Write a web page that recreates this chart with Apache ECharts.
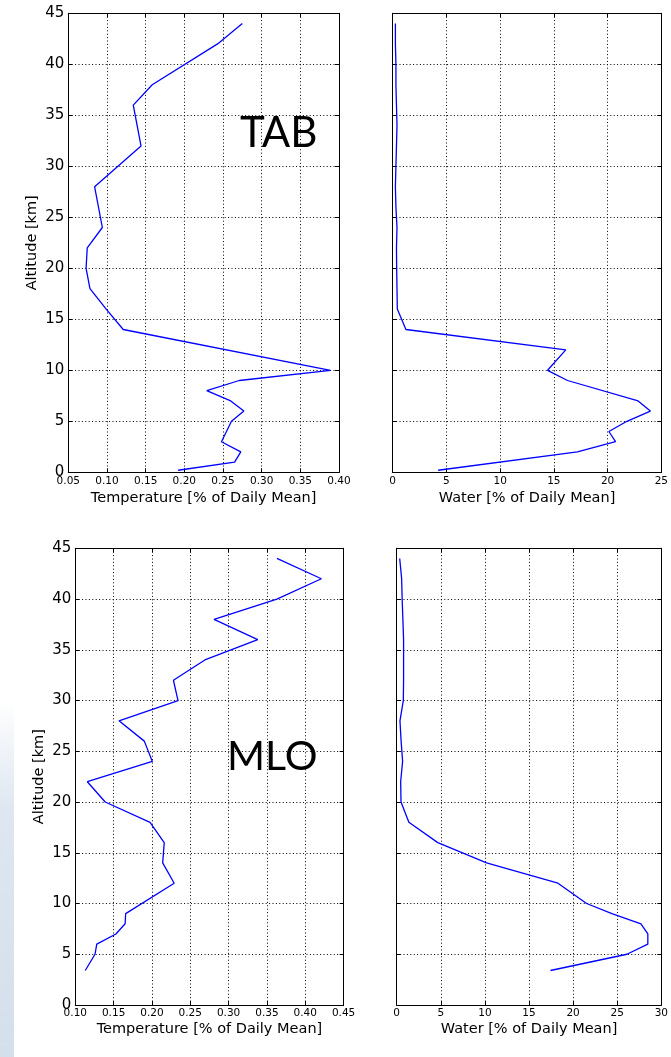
<!DOCTYPE html>
<html>
<head>
<meta charset="utf-8">
<script src="https://cdn.jsdelivr.net/npm/echarts@6/dist/echarts.min.js"></script>
<style>
html,body{margin:0;padding:0;background:#fff;}
#chart{width:671px;height:1057px;}
</style>
</head>
<body>
<div id="chart"></div>
<script>
// ---- data ----
const tabTempAlt = [0.2,1,2,3,5,6,7,8,9,10,14,16,18,20,22,24,28,32,36,38,42,44];
const tabTemp    = [0.192,0.265,0.273,0.248,0.261,0.277,0.260,0.229,0.271,0.389,0.121,0.099,0.078,0.073,0.0745,0.094,0.084,0.144,0.134,0.1585,0.243,0.275];

const tabWaterAlt = [0.2,2,3,4,5,6,7,9,10,12,14,16,18,20,22,24,26,28,30,32,34,36,38,40,42,44];
const tabWater    = [4.23,17.19,20.74,20.12,21.8,23.98,22.84,16.27,14.41,16.11,1.23,0.43,0.4,0.37,0.35,0.4,0.3,0.25,0.3,0.35,0.4,0.35,0.3,0.3,0.25,0.25];

const mloTempAlt = [3.4,5,6,7,8,9,12,14,16,18,20,22,24,26,28,30,32,34,36,38,40,42,44];
const mloTemp    = [0.113,0.1257,0.128,0.153,0.165,0.1657,0.229,0.214,0.216,0.1975,0.139,0.1157,0.2005,0.190,0.157,0.234,0.228,0.269,0.338,0.281,0.363,0.421,0.363];

const mloWaterAlt = [3.4,5,6,7,8,9,10,12,14,16,18,20,22,24,26,28,30,32,34,36,38,40,42,44];
const mloWater    = [17.43,26.1,28.47,28.47,27.69,24.4,21.53,18.28,10.19,4.66,1.38,0.49,0.45,0.67,0.5,0.37,0.75,0.78,0.78,0.78,0.7,0.62,0.56,0.34];

const altTicks = [0,5,10,15,20,25,30,35,40,45];
const tempTitle = 'Temperature [% of Daily Mean]';
const waterTitle = 'Water [% of Daily Mean]';
const altTitle = 'Altitude [km]';
const stationLabels = ['TAB','MLO'];

// ---- layout ----
const grids = [
  {left:68.3, top:13.3, width:270.7, height:459},
  {left:392.7, top:13.3, width:270, height:459},
  {left:75.3, top:548.3, width:268.3, height:456.7},
  {left:396.7, top:548.3, width:268, height:456.7}
];
const xCfg = [
  {min:0.05, max:0.40, interval:0.05, fmt:v=>v.toFixed(2), name:tempTitle, labelMargin:3, nameGap:18},
  {min:0, max:25, interval:5, fmt:v=>String(Math.round(v)), name:waterTitle, labelMargin:3, nameGap:18},
  {min:0.10, max:0.45, interval:0.05, fmt:v=>v.toFixed(2), name:tempTitle, labelMargin:3, nameGap:17},
  {min:0, max:30, interval:5, fmt:v=>String(Math.round(v)), name:waterTitle, labelMargin:3, nameGap:17}
];
const yLabelsShown = [true,false,true,false];
const seriesData = [
  tabTemp.map((v,i)=>[v,tabTempAlt[i]]),
  tabWater.map((v,i)=>[v,tabWaterAlt[i]]),
  mloTemp.map((v,i)=>[v,mloTempAlt[i]]),
  mloWater.map((v,i)=>[v,mloWaterAlt[i]])
];

const dotted = {color:'#000', width:1, type:[1,2.4]};
const xAxes = [], yAxes = [], series = [];
grids.forEach((g,i)=>{
  const c = xCfg[i];
  xAxes.push({
    type:'value', gridIndex:i, min:c.min, max:c.max, interval:c.interval, position:'bottom',
    axisLine:{show:true, onZero:false, lineStyle:{color:'#000', width:1}},
    axisTick:{show:true, inside:true, length:4, lineStyle:{color:'#000'}},
    axisLabel:{show:true, formatter:c.fmt, color:'#000', fontFamily:'DejaVu Sans', fontSize:10.5, margin:c.labelMargin, showMinLabel:true, showMaxLabel:true},
    splitLine:{show:true, lineStyle:dotted},
    name:c.name, nameLocation:'middle', nameGap:c.nameGap,
    nameTextStyle:{color:'#000', fontFamily:'DejaVu Sans', fontSize:14.5, verticalAlign:'top'}
  });
  xAxes.push({
    type:'value', gridIndex:i, min:c.min, max:c.max, interval:c.interval, position:'top',
    axisLine:{show:true, onZero:false, lineStyle:{color:'#000', width:1}},
    axisTick:{show:true, inside:true, length:4, lineStyle:{color:'#000'}},
    axisLabel:{show:false}, splitLine:{show:false}
  });
  yAxes.push({
    type:'value', gridIndex:i, min:0, max:45, interval:5, position:'left',
    axisLine:{show:true, onZero:false, lineStyle:{color:'#000', width:1}},
    axisTick:{show:true, inside:true, length:4, lineStyle:{color:'#000'}},
    axisLabel:{show:yLabelsShown[i], color:'#000', fontFamily:'DejaVu Sans', fontSize:15, margin:4,
      formatter:v=>altTicks.includes(v)?String(v):''},
    splitLine:{show:true, lineStyle:dotted},
    name:yLabelsShown[i]?altTitle:'', nameLocation:'middle', nameGap:29,
    nameTextStyle:{color:'#000', fontFamily:'DejaVu Sans', fontSize:14.5}
  });
  yAxes.push({
    type:'value', gridIndex:i, min:0, max:45, interval:5, position:'right',
    axisLine:{show:true, onZero:false, lineStyle:{color:'#000', width:1}},
    axisTick:{show:true, inside:true, length:4, lineStyle:{color:'#000'}},
    axisLabel:{show:false}, splitLine:{show:false}
  });
  series.push({
    type:'line', xAxisIndex:2*i, yAxisIndex:2*i, data:seriesData[i],
    showSymbol:false, symbol:'none', animation:false,
    lineStyle:{color:'#0000ff', width:1.3}
  });
});

const chart = echarts.init(document.getElementById('chart'), null, {renderer:'canvas'});
chart.setOption({
  animation:false,
  backgroundColor:'#fff',
  grid: grids.map(g=>Object.assign({containLabel:false}, g)),
  xAxis:xAxes, yAxis:yAxes, series:series,
  graphic:[
    {type:'rect', left:0, top:700, z:-10, shape:{width:14, height:357},
      style:{fill:new echarts.graphic.LinearGradient(0,0,0,1,[{offset:0,color:'rgba(214,225,237,0)'},{offset:0.3,color:'rgba(214,225,237,0.8)'},{offset:1,color:'#d3dfeb'}])}},
    {type:'text', left:240, top:112, z:100, style:{text:stationLabels[0], font:'42px Lato', fill:'#000'}},
    {type:'text', left:227, top:736, z:100, style:{text:stationLabels[1], font:'41px Lato', fill:'#000'}}
  ]
});
</script>
</body>
</html>
